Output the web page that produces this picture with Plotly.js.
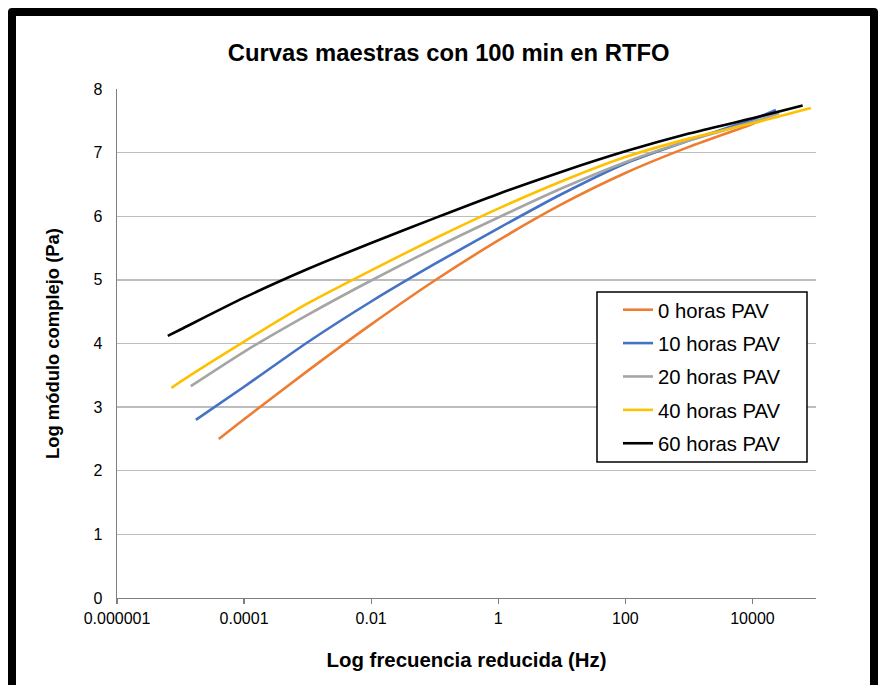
<!DOCTYPE html>
<html>
<head>
<meta charset="utf-8">
<script src="https://cdn.plot.ly/plotly-3.0.1.min.js"></script>
<style>
  html, body { margin: 0; padding: 0; background: #fff; }
  #wrap { position: relative; width: 878px; height: 685px; overflow: hidden; }
  #chart { position: absolute; left: 0; top: 0; width: 878px; height: 685px; }
  #frame { position: absolute; left: 8px; top: 8px; width: 870px; height: 720px;
           box-sizing: border-box; border: 8px solid #000; border-radius: 4px; pointer-events: none; }
</style>
</head>
<body>
<div id="wrap">
  <div id="chart"></div>
  <div id="frame"></div>
</div>
<script>
// ---- data ----
const seriesNames = ['0 horas PAV', '10 horas PAV', '20 horas PAV', '40 horas PAV', '60 horas PAV'];

const freq0h  = [4.0e-5, 1e-4, 1e-3, 1e-2, 1e-1, 1, 10, 100, 1000, 10000, 11700];
const mod0h   = [2.50, 2.81, 3.57, 4.30, 4.99, 5.62, 6.19, 6.68, 7.09, 7.45, 7.48];

const freq10h = [1.74e-5, 1e-4, 1e-3, 1e-2, 1e-1, 1, 10, 100, 1000, 10000, 23400];
const mod10h  = [2.80, 3.32, 4.02, 4.66, 5.25, 5.81, 6.35, 6.83, 7.19, 7.52, 7.67];

const freq20h = [1.45e-5, 1e-4, 1e-3, 1e-2, 1e-1, 1, 10, 100, 1000, 10000, 26300];
const mod20h  = [3.33, 3.87, 4.45, 4.99, 5.50, 5.98, 6.44, 6.85, 7.19, 7.48, 7.62];

const freq40h = [7.2e-6, 1e-5, 1e-4, 1e-3, 1e-2, 1e-1, 1, 10, 100, 1000, 10000, 83000];
const mod40h  = [3.30, 3.40, 4.03, 4.63, 5.15, 5.65, 6.12, 6.55, 6.93, 7.22, 7.46, 7.70];

const freq60h = [6.3e-6, 1e-5, 1e-4, 1e-3, 1e-2, 1e-1, 1, 10, 100, 1000, 10000, 61700];
const mod60h  = [4.12, 4.22, 4.72, 5.17, 5.58, 5.97, 6.35, 6.70, 7.02, 7.30, 7.54, 7.74];

const xTickVals = [1e-6, 1e-4, 1e-2, 1, 100, 10000];
const xTickText = ['0.000001', '0.0001', '0.01', '1', '100', '10000'];
const yTickVals = [0, 1, 2, 3, 4, 5, 6, 7, 8];

const colors = ['#ED7D31', '#4472C4', '#A5A5A5', '#FFC000', '#000000'];
const xs = [freq0h, freq10h, freq20h, freq40h, freq60h];
const ys = [mod0h, mod10h, mod20h, mod40h, mod60h];

const FONT = 'Liberation Sans, Arial, sans-serif';

const traces = seriesNames.map((name, i) => ({
  type: 'scatter', mode: 'lines', name: name,
  x: xs[i], y: ys[i],
  line: { color: colors[i], width: 2.6, shape: 'spline', smoothing: 0.7 },
  legendgroup: 'g' + i,
  hoverinfo: 'skip'
}));

const W = 878, H = 685, L = 117, R = 62, T = 89, B = 87;
const pw = W - L - R, ph = H - T - B;
const px2x = px => (px - L) / pw;
const px2y = py => (H - B - py) / ph;

const layout = {
  width: W, height: H,
  margin: { l: L, r: R, t: T, b: B, pad: 0 },
  paper_bgcolor: '#ffffff', plot_bgcolor: '#ffffff',
  font: { family: FONT, color: '#000', size: 16 },
  title: {
    text: '<b>Curvas maestras con 100 min en RTFO</b>',
    font: { family: FONT, size: 23.8, color: '#000' },
    xref: 'container', yref: 'container', x: 0.511, y: 1 - 53 / H,
    xanchor: 'center', yanchor: 'middle'
  },
  xaxis: {
    type: 'log', range: [-6, 5],
    tickmode: 'array', tickvals: xTickVals, ticktext: xTickText,
    showgrid: false, zeroline: false,
    showline: true, linecolor: '#7f7f7f', linewidth: 1.3,
    ticks: 'outside', ticklen: 5, tickcolor: '#7f7f7f', tickwidth: 1.3,
    tickfont: { family: FONT, size: 16, color: '#000' },
    title: { text: '<b>Log frecuencia reducida (Hz)</b>', font: { family: FONT, size: 20.4, color: '#000' }, standoff: 27 },
    automargin: false, fixedrange: true
  },
  yaxis: {
    range: [0, 8], tickmode: 'array', tickvals: yTickVals,
    showgrid: true, gridcolor: '#bdbdbd', gridwidth: 1.3,
    zeroline: false, showline: true, linecolor: '#7f7f7f', linewidth: 1.3,
    ticks: '', ticklabelstandoff: 10,
    tickfont: { family: FONT, size: 16, color: '#000' },
    title: { text: '<b>Log módulo complejo (Pa)</b>', font: { family: FONT, size: 18.4, color: '#000' }, standoff: 29 },
    automargin: false, fixedrange: true
  },
  showlegend: true,
  legend: {
    x: px2x(618), y: px2y(290), xanchor: 'left', yanchor: 'top',
    bgcolor: 'rgba(0,0,0,0)', borderwidth: 0,
    font: { family: FONT, size: 20.3, color: '#000' },
    traceorder: 'grouped', tracegroupgap: 4, itemwidth: 30
  },
  shapes: [{
    type: 'rect', xref: 'paper', yref: 'paper',
    x0: px2x(597), x1: px2x(807), y0: px2y(462), y1: px2y(292),
    line: { color: '#000', width: 1.5 }, fillcolor: '#ffffff', layer: 'above'
  }]
};

Plotly.newPlot('chart', traces, layout, { staticPlot: true, displayModeBar: false });
</script>
</body>
</html>
